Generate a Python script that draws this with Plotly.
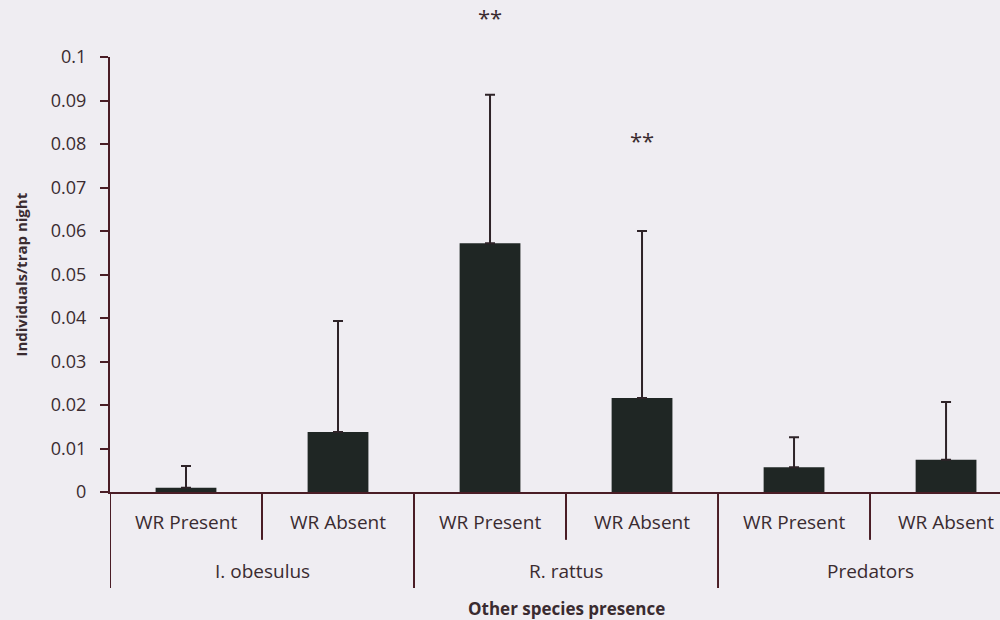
import plotly.graph_objects as go

# ---- data ----
groups = ["I. obesulus", "R. rattus", "Predators"]
subcats = ["WR Present", "WR Absent"]
means = [0.001, 0.0138, 0.0572, 0.0216, 0.0057, 0.0074]
err_up = [0.005, 0.0255, 0.0341, 0.0384, 0.0069, 0.0133]
sig_marks = ["", "", "**", "**", "", ""]
sig_y = [None, None, 0.1092, 0.0809, None, None]
y_tickvals = [0, 0.01, 0.02, 0.03, 0.04, 0.05, 0.06, 0.07, 0.08, 0.09, 0.1]
y_ticktext = ["0", "0.01", "0.02", "0.03", "0.04", "0.05", "0.06", "0.07", "0.08", "0.09", "0.1"]
y_title = "Individuals/trap night"
x_title = "Other species presence"

# ---- styling ----
BG = "#EFEDF2"
AXIS = "#4a1d26"
BAR = "#1f2624"
TXT = "#3a2b30"
FONT = "Open Sans"
Y_RANGE = [0, 0.1]

n = len(means)
xs = list(range(n))
labels = [subcats[i % 2] for i in xs]

fig = go.Figure()
fig.add_trace(go.Bar(
    x=xs, y=means, width=0.4,
    marker=dict(color=BAR, line=dict(width=0)),
    error_y=dict(type="data", array=err_up, symmetric=False,
                 arrayminus=[0] * n, color="#2e2328", thickness=2, width=5),
    hoverinfo="skip",
))

# ---- hierarchical category axis drawn below the plot ----
shapes = []
annotations = []
sub_bottom = -0.110
grp_bottom = -0.2207
for i in range(n + 1):
    xb = i - 0.5
    is_group = (i % 2 == 0)
    shapes.append(dict(type="line", xref="x", yref="paper", x0=xb, x1=xb,
                       y0=0, y1=grp_bottom if is_group else sub_bottom,
                       line=dict(color=AXIS, width=2)))
for i, lab in enumerate(labels):
    annotations.append(dict(x=i, y=-0.069, xref="x", yref="paper", text=lab,
                            showarrow=False, xanchor="center", yanchor="middle",
                            font=dict(family=FONT, size=19, color=TXT)))
for g, name in enumerate(groups):
    annotations.append(dict(x=2 * g + 0.5, y=-0.1816, xref="x", yref="paper", text=name,
                            showarrow=False, xanchor="center", yanchor="middle",
                            font=dict(family=FONT, size=19, color=TXT)))
annotations.append(dict(x=2.5, y=-0.2667, xref="x", yref="paper", text="<b>" + x_title + "</b>",
                        showarrow=False, xanchor="center", yanchor="middle",
                        font=dict(family=FONT, size=17, color=TXT)))
annotations.append(dict(x=-0.1011, y=0.5, xref="paper", yref="paper", text="<b>" + y_title + "</b>",
                        showarrow=False, textangle=-90, xanchor="center", yanchor="middle",
                        font=dict(family=FONT, size=15, color=TXT)))
for i, (m, yy) in enumerate(zip(sig_marks, sig_y)):
    if m:
        annotations.append(dict(x=i, y=(yy - Y_RANGE[0]) / (Y_RANGE[1] - Y_RANGE[0]),
                                xref="x", yref="paper", text=m, showarrow=False,
                                xanchor="center", yanchor="middle",
                                font=dict(family=FONT, size=22, color=TXT)))

fig.update_layout(
    width=1000, height=620,
    margin=dict(l=110, r=0, t=57, b=128),
    paper_bgcolor=BG, plot_bgcolor=BG,
    showlegend=False,
    shapes=shapes,
    annotations=annotations,
    font=dict(family=FONT, color=TXT),
    xaxis=dict(range=[-0.5, 5.355], showgrid=False, zeroline=False, showticklabels=False,
               ticks="", showline=True, linecolor=AXIS, linewidth=2, fixedrange=True),
    yaxis=dict(range=Y_RANGE, tickvals=y_tickvals, ticktext=y_ticktext,
               showgrid=False, zeroline=False, showline=True, linecolor=AXIS, linewidth=2,
               ticks="outside", ticklen=8, tickwidth=2, tickcolor=AXIS,
               ticklabelstandoff=10,
               tickfont=dict(family=FONT, size=18, color=TXT), fixedrange=True),
)

fig.write_html("out.html", config={"displayModeBar": False},
               post_script="document.body.style.margin='0';document.body.style.padding='0';"
                           "document.documentElement.style.overflow='hidden';")
